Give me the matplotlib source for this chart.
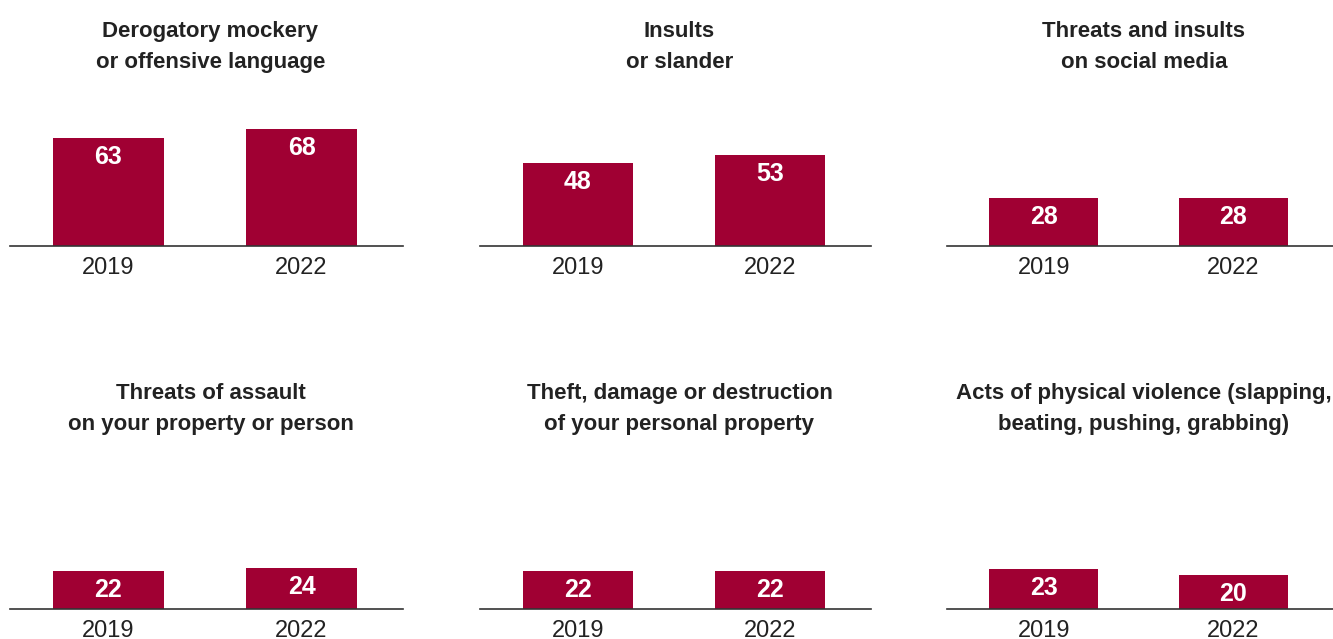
import matplotlib
matplotlib.use("Agg")
import matplotlib.pyplot as plt
from matplotlib import font_manager

titles = [
    "Derogatory mockery\nor offensive language",
    "Insults\nor slander",
    "Threats and insults\non social media",
    "Threats of assault\non your property or person",
    "Theft, damage or destruction\nof your personal property",
    "Acts of physical violence (slapping,\nbeating, pushing, grabbing)",
]
years = ["2019", "2022"]
values_2019 = [63, 48, 28, 22, 22, 23]
values_2022 = [68, 53, 28, 24, 22, 20]

BAR_COLOR = "#A00033"
TEXT_COLOR = "#222222"

installed = {f.name for f in font_manager.fontManager.ttflist}
family = "Liberation Sans Narrow" if "Liberation Sans Narrow" in installed else "Liberation Sans"
plt.rcParams["font.family"] = [family, "DejaVu Sans"]

W, H = 1333, 639
fig = plt.figure(figsize=(W / 100, H / 100), dpi=100)

col_x = [(10, 403), (480, 871), (947, 1333)]
row_base = [246, 609]
px_per_unit = 1.72
ax_h = 140

for i, title in enumerate(titles):
    r, c = divmod(i, 3)
    x0, x1 = col_x[c]
    base = row_base[r]
    ax = fig.add_axes([x0 / W, (H - base) / H, (x1 - x0) / W, ax_h / H])
    vals = [values_2019[i], values_2022[i]]
    ax.bar([0, 1], vals, width=0.575, color=BAR_COLOR)
    ax.set_xlim(-0.51, 1.525)
    ax.set_ylim(0, ax_h / px_per_unit)
    for s in ["top", "right", "left"]:
        ax.spines[s].set_visible(False)
    ax.spines["bottom"].set_color("#333333")
    ax.spines["bottom"].set_linewidth(1.2)
    ax.set_yticks([])
    ax.set_xticks([0, 1])
    ax.set_xticklabels(years, fontsize=17, color=TEXT_COLOR)
    ax.tick_params(axis="x", length=0, pad=8)
    for xi, v in enumerate(vals):
        ax.annotate(str(v), (xi, v), xytext=(0, -5), textcoords="offset points",
                    ha="center", va="top", color="white", fontsize=18, fontweight="bold")
    cx = (x0 + x1) / 2 + 4
    ty = 31 if r == 0 else 393
    fig.text(cx / W, 1 - (ty + 16) / H, title, ha="center", va="center",
             fontsize=16, fontweight="bold", color=TEXT_COLOR, linespacing=1.65)

fig.savefig("out.png", dpi=100)
